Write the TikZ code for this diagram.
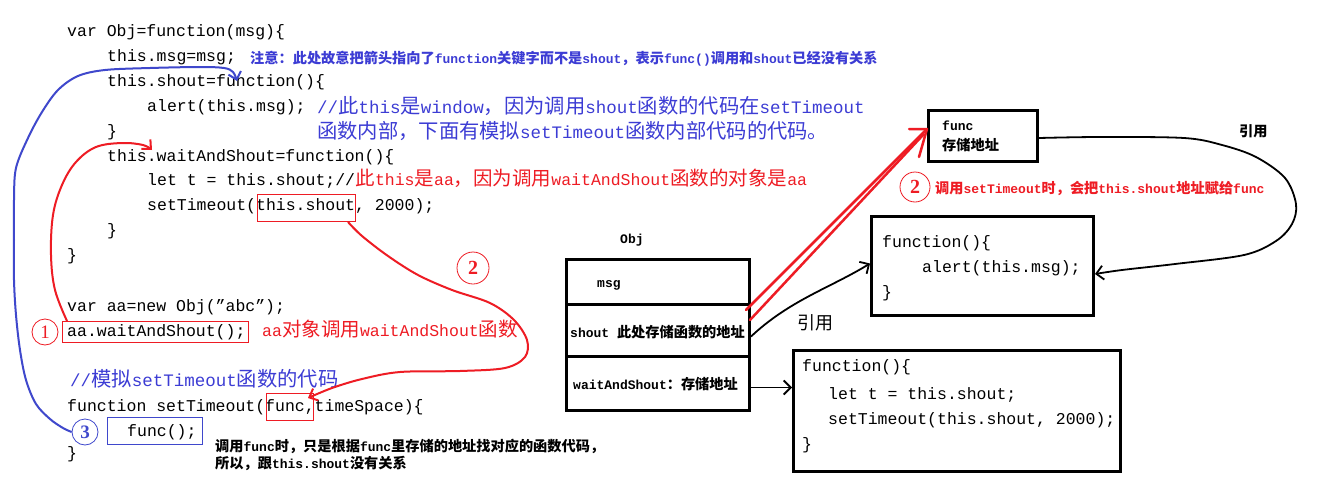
\documentclass[tikz,border=0pt]{standalone}
\usepackage{fontspec}
\usetikzlibrary{arrows.meta}
\newfontfamily\monof{Liberation Mono}
\newfontfamily\cjkf{Noto Sans CJK SC}
\newfontfamily\serff{Liberation Serif}
\definecolor{cRed}{HTML}{EE1C24}
\definecolor{cBlue}{HTML}{3F48CC}
\definecolor{cBlueT}{HTML}{3C3CD4}
\newcommand\zc[1]{{\cjkf\fontsize{19.5pt}{22pt}\selectfont#1}}
\newcommand\zb[1]{{\cjkf\fontsize{20.3pt}{22pt}\selectfont#1}}
\newcommand\zs[1]{{\cjkf\bfseries\fontsize{14.2pt}{16pt}\selectfont#1}}
\tikzset{
  code/.style={anchor=base west, inner sep=0pt, text=black, font=\monof\fontsize{16.5pt}{20pt}\selectfont},
  bcmt/.style={anchor=base west, inner sep=0pt, text=cBlueT, font=\monof\fontsize{17.5pt}{20pt}\selectfont},
  rcmt/.style={code, text=cRed},
  note/.style={anchor=base west, inner sep=0pt, text=black, font=\monof\bfseries\fontsize{13pt}{15pt}\selectfont},
  hl/.style={line width=1pt, inner sep=0pt, anchor=north west},
  frame/.style={draw=black, line width=3pt, inner sep=0pt, anchor=north west},
  num/.style={circle, line width=0.8pt, inner sep=0pt, font=\serff\fontsize{19pt}{19pt}\selectfont},
  blk/.style={draw=black, line width=1.8pt, line join=round, -{Straight Barb[length=7pt,width=14pt]}},
  redcurve/.style={draw=cRed, line width=2pt, line join=round, -{Straight Barb[length=7pt,width=13pt]}},
  bluecurve/.style={draw=cBlue, line width=2pt, line join=round, -{Straight Barb[length=7pt,width=13pt]}},
}
\begin{document}
\begin{tikzpicture}[x=1pt,y=-1pt]
\useasboundingbox (0,0) rectangle (1341,498);
\fill[white] (0,0) rectangle (1341,498);

% ---------------- left code ----------------
\node[code] (l0) at (67,36.5) {var Obj=function(msg)\{};
\node[code] (l1) at (107,61.4) {this.msg=msg;};
\node[note, text=cBlueT] (note1) at (250,63.5) {\zs{注意：此处故意把箭头指向了}function\zs{关键字而不是}shout\zs{，表示}func()\zs{调用和}shout\zs{已经没有关系}};
\node[code] (l2) at (107,86.3) {this.shout=function()\{};
\node[code] (l3) at (147,111.2) {alert(this.msg);};
\node[bcmt] (bc1) at (317,113.5) {//\zb{此}this\zb{是}window\zb{，因为调用}shout\zb{函数的代码在}setTimeout};
\node[code] (l4) at (107,136.1) {\}};
\node[bcmt] (bc2) at (317,138.5) {\zb{函数内部，下面有模拟}setTimeout\zb{函数内部代码的代码。}};
\node[code] (l5) at (107,161) {this.waitAndShout=function()\{};
\node[code] (l6) at (147,185.9) {let t = this.shout;//};
\node[rcmt] (rc1) at (l6.base east) {\zc{此}this\zc{是}aa\zc{，因为调用}waitAndShout\zc{函数的对象是}aa};
\node[code] (l7) at (147,210.8) {setTimeout(this.shout, 2000);};
\node[code] (l8) at (107,235.7) {\}};
\node[code] (l9) at (67,260.6) {\}};
\node[code] (l10) at (67,311.5) {var aa=new Obj(”abc”);};
\node[code] (l11) at (67,336.5) {aa.waitAndShout();};
\node[rcmt] (rc2) at (262,336.5) {aa\zc{对象调用}waitAndShout\zc{函数}};
\node[bcmt] (bc3) at (70,386.5) {//\zb{模拟}setTimeout\zb{函数的代码}};
\node[code] (l12) at (67,411.5) {function setTimeout(func,timeSpace)\{};
\node[code] (l13) at (127,436.5) {func();};
\node[code] (l14) at (67,458) {\}};
\node[note] (note2) at (215,451.5) {\zs{调用}func\zs{时，只是根据}func\zs{里存储的地址找对应的函数代码，}};
\node[note] (note3) at (215,468.5) {\zs{所以，跟}this.shout\zs{没有关系}};

% highlight boxes
\node[hl, draw=cRed, minimum width=98pt, minimum height=27pt] (tsbox) at (257,194) {};
\node[hl, draw=cRed, minimum width=186pt, minimum height=21pt] (aabox) at (62,321) {};
\node[hl, draw=cRed, minimum width=47pt, minimum height=27pt] (fcbox) at (266,393) {};
\node[hl, draw=cBlue, minimum width=95pt, minimum height=27pt] (fnbox) at (107,417) {};

% circled numbers
\node[num, draw=cRed, text=cRed, minimum size=26pt] (c1) at (45,332) {1};
\node[num, draw=cRed, text=cRed, minimum size=32pt, font=\serff\bfseries\fontsize{20pt}{20pt}\selectfont] (c2a) at (473,268) {2};
\node[num, draw=cRed, text=cRed, minimum size=30pt, font=\serff\bfseries\fontsize{20pt}{20pt}\selectfont] (c2b) at (915,187) {2};
\node[num, draw=cBlue, text=cBlue, minimum size=26pt, font=\serff\bfseries\fontsize{19pt}{19pt}\selectfont] (c3) at (85,432) {3};

% ---------------- right diagram ----------------
\node[note] (objl) at (620,243.5) {Obj};
\node[frame, minimum width=183pt, minimum height=45pt] (msgrow) at (565,258) {};
\node[frame, minimum width=183pt, minimum height=52pt] (shoutrow) at (565,303) {};
\node[frame, minimum width=183pt, minimum height=54pt] (waitrow) at (565,355) {};
\node[note] (msgl) at (597,287.5) {msg};
\node[note] (shoutl) at (570,337.5) {shout \zs{此处存储函数的地址}};
\node[note] (waitl) at (573,389.5) {waitAndShout\zs{：存储地址}};

\node[frame, minimum width=109pt, minimum height=51pt] (funcbox) at (927,109) {};
\node[note] (funcl) at (942,130.5) {func};
\node[note] (addrl) at (942,150) {\zs{存储地址}};
\node[note] (ref1) at (1239,136.5) {\zs{引用}};
\node[note, text=cRed] (rnote) at (935,193.5) {\zs{调用}setTimeout\zs{时，会把}this.shout\zs{地址赋给}func};

\node[frame, minimum width=222pt, minimum height=99pt] (fbox1) at (870,215) {};
\node[code] (f1a) at (882,247.5) {function()\{};
\node[code] (f1b) at (922,272.5) {alert(this.msg);};
\node[code] (f1c) at (882,297.5) {\}};

\node[anchor=base west, inner sep=0pt, font=\cjkf\fontsize{18pt}{20pt}\selectfont] (ref2) at (797,329) {引用};

\node[frame, minimum width=327pt, minimum height=121pt] (fbox2) at (792,349) {};
\node[code] (f2a) at (802,371.5) {function()\{};
\node[code] (f2b) at (828,399.5) {let t = this.shout;};
\node[code] (f2c) at (828,424.5) {setTimeout(this.shout, 2000);};
\node[code] (f2d) at (802,449.5) {\}};

% ---------------- connectors ----------------
% wait row -> function box 2
\coordinate (w1) at ([yshift=-4pt]waitrow.east);
\draw[blk] (w1) -- (w1 -| fbox2.west);
% shout row -> function box 1
\coordinate (s1) at ([yshift=-6pt]shoutrow.east);
\coordinate (f1w) at ([yshift=2.5pt]fbox1.west);
\draw[blk] (s1) .. controls (790,300) and (830,288) .. (f1w);
% func box -> function box 1 (right side)
\coordinate (fe) at ([yshift=-2pt]funcbox.east);
\coordinate (f1e) at ([yshift=-8pt]fbox1.east);
\draw[blk] plot[smooth, tension=0.55] coordinates {(fe) (1100,137) (1184,138) (1222,145) (1256,157) (1285,178) (1296,204) (1292,224) (1276,241) (1244,255) (1175,264) (1122,270) (f1e)};
% red double line: shout row -> func box
\coordinate (r1) at ([xshift=-5pt,yshift=-7pt]shoutrow.north east);
\coordinate (r2) at ([xshift=-1pt,yshift=-17pt]shoutrow.north east);
\coordinate (tip) at ([yshift=7pt]funcbox.west);
\coordinate (tip2) at ([xshift=-4pt,yshift=1pt]funcbox.west);
\draw[cRed, line width=2.5pt, line cap=round] (r1) -- (tip);
\draw[cRed, line width=2.5pt, line cap=round] (r2) -- (tip2);
\draw[cRed, line width=2.5pt, line cap=round, line join=round] ([xshift=-18pt]tip) -- (tip) -- ([xshift=-8pt,yshift=-28pt]tip);

% red curve 1: aa.waitAndShout() -> this.waitAndShout
\coordinate (a0) at ([xshift=5pt]aabox.north west);
\coordinate (wsh) at (152,150);
\draw[redcurve] plot[smooth, tension=0.6] coordinates {(a0) (55,290) (51,255) (53,215) (62,185) (76,162) (96,147) (122,143) (143,145) (wsh)};
% red curve 2: this.shout -> func
\coordinate (t0) at ([xshift=-8pt]tsbox.south east);
\coordinate (fc1) at ([xshift=-6pt,yshift=-5pt]fcbox.north east);
\draw[redcurve] plot[smooth, tension=0.55] coordinates {(t0) (362,236) (388,256) (418,275) (452,290) (490,303) (514,320) (527,340) (525,357) (505,368) (460,371) (400,372) (362,379) (332,388) (fc1)};
% blue curve 3: func() -> function keyword
\coordinate (fnkw) at (237,81);
\draw[bluecurve] plot[smooth, tension=0.55] coordinates {(c3.west) (63,428) (50,419) (36,404) (26,380) (20,350) (16,315) (14,280) (14,240) (14,200) (16,168) (28,138) (42,112) (58,90) (78,76) (105,70) (150,68) (200,67) (224,68) (233,72) (fnkw)};
\end{tikzpicture}
\end{document}
